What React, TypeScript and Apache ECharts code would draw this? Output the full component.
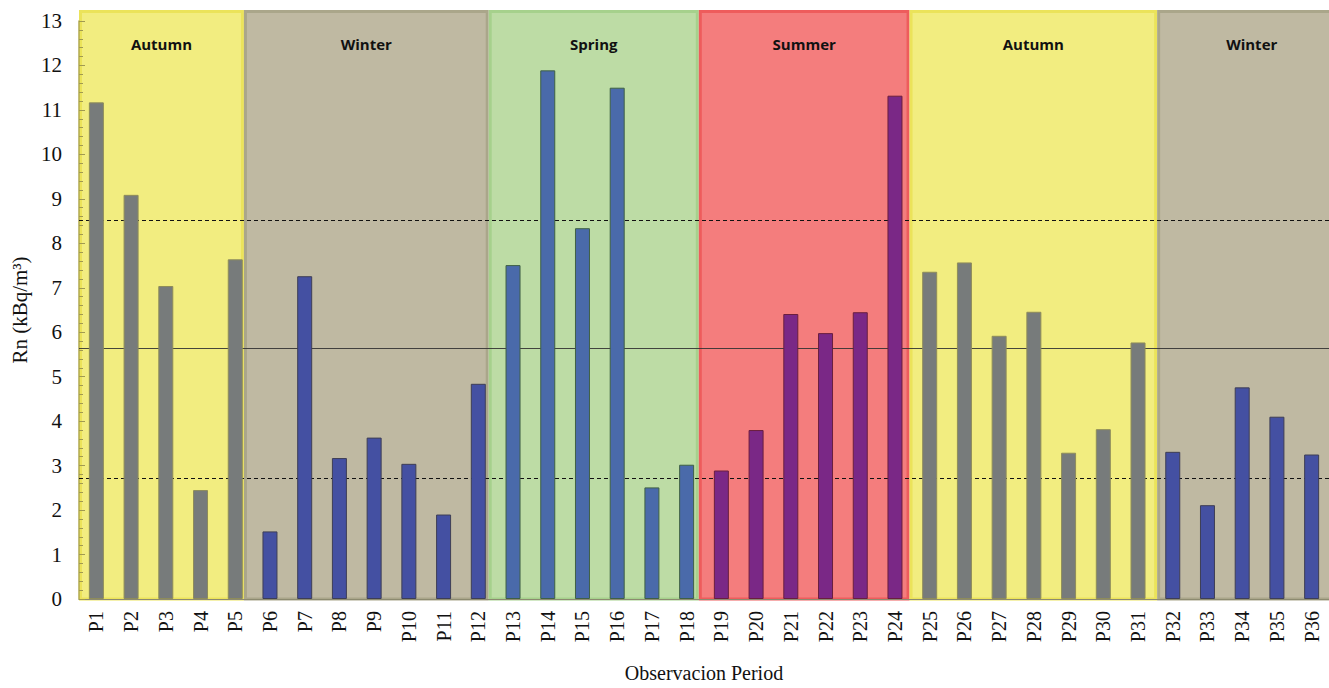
import React, { useEffect, useRef } from "react";
import * as echarts from "echarts";

const categories = Array.from({ length: 36 }, (_, i) => "P" + (i + 1));
const radonValues = [
  11.17, 9.09, 7.04, 2.45, 7.64,
  1.52, 7.26, 3.17, 3.63, 3.04, 1.9, 4.84,
  7.51, 11.89, 8.34, 11.5, 2.51, 3.02,
  2.89, 3.8, 6.41, 5.98, 6.45, 11.32,
  7.36, 7.57, 5.92, 6.46, 3.29, 3.82, 5.77,
  3.31, 2.11, 4.76, 4.1, 3.25,
];
const seasonNames = ["Autumn", "Winter", "Spring", "Summer", "Autumn", "Winter"];
const seasonCounts = [5, 7, 6, 6, 7, 5];
// season band edges in category units (as drawn in the original)
const seasonEdges = [0, 4.75, 11.8, 17.85, 23.92, 31.05, 36.5];
const meanLine = 5.65;
const upperLine = 8.52;
const lowerLine = 2.72;
const yTicks = { min: 0, max: 13, interval: 1 };

const seasonStyle: Record<string, { fill: string; stroke: string; bar: string; barBorder: string }> = {
  Autumn: { fill: "#f2ed80", stroke: "#ebe35a", bar: "#777b7b", barBorder: "#8e8c5a" },
  Winter: { fill: "#bfb9a2", stroke: "#aaa68a", bar: "#4450a2", barBorder: "#3e3e55" },
  Spring: { fill: "#bddca5", stroke: "#a6d18c", bar: "#4a6aaa", barBorder: "#3f6045" },
  Summer: { fill: "#f47d7d", stroke: "#ee5c5c", bar: "#7a2886", barBorder: "#6a1e3e" },
};

function barSeasonIndex(i: number): number {
  let acc = 0;
  for (let s = 0; s < seasonCounts.length; s++) {
    acc += seasonCounts[s];
    if (i < acc) return s;
  }
  return seasonCounts.length - 1;
}

export default function App() {
  const ref = useRef<HTMLDivElement>(null);
  useEffect(() => {
    if (!ref.current) return;
    const chart = echarts.init(ref.current, null, { renderer: "svg" });
    const serif = "'Liberation Serif', 'Times New Roman', serif";
    const bandData = seasonNames.map((_, i) => [seasonEdges[i], seasonEdges[i + 1]]);
    const barData = radonValues.map((v, i) => {
      const st = seasonStyle[seasonNames[barSeasonIndex(i)]];
      return { value: v, itemStyle: { color: st.bar, borderColor: st.barBorder, borderWidth: 1 } };
    });
    chart.setOption({
      animation: false,
      grid: { left: 79, width: 1261, top: 21, bottom: 82 },
      xAxis: [
        {
          type: "category",
          data: categories,
          boundaryGap: true,
          axisLine: { show: true, lineStyle: { color: "#8c8a70", width: 1 } },
          axisTick: { show: false },
          axisLabel: {
            rotate: 90,
            fontFamily: serif,
            fontSize: 20,
            color: "#111",
            margin: 12,
            interval: 0,
          },
          name: "Observacion Period",
          nameLocation: "middle",
          nameGap: 64,
          nameTextStyle: { fontFamily: serif, fontSize: 20, color: "#111" },
          z: 3,
        },
        { type: "value", min: 0, max: 36, show: false },
      ],
      yAxis: {
        type: "value",
        min: yTicks.min,
        max: yTicks.max,
        interval: yTicks.interval,
        axisLine: { show: true, lineStyle: { color: "#b0a850", width: 1.5 } },
        axisTick: { show: true, inside: true, length: 6, lineStyle: { color: "#a09a50" } },
        minorTick: { show: true, splitNumber: 5, length: 4, lineStyle: { color: "#a09a50" } },
        splitLine: { show: false },
        axisLabel: { fontFamily: serif, fontSize: 21, color: "#111", margin: 17 },
        name: "Rn (kBq/m³)",
        nameLocation: "middle",
        nameGap: 47,
        nameRotate: 90,
        nameTextStyle: { fontFamily: serif, fontSize: 21, color: "#111" },
        z: 4,
      },
      series: [
        {
          type: "custom",
          xAxisIndex: 1,
          yAxisIndex: 0,
          z: 1,
          clip: false,
          silent: true,
          data: bandData,
          renderItem: (params: any, api: any) => {
            const name = seasonNames[params.dataIndex];
            const st = seasonStyle[name];
            const p1 = api.coord([api.value(0), yTicks.max]);
            const p2 = api.coord([api.value(1), 0]);
            const top = p1[1] - 11;
            const x1 = p1[0] + 1.5;
            const x2 = p2[0] - 1.5;
            return {
              type: "group",
              children: [
                {
                  type: "rect",
                  shape: { x: x1, y: top + 1.5, width: x2 - x1, height: p2[1] - top - 1.5 },
                  style: { fill: st.fill, stroke: st.stroke, lineWidth: 3 },
                },
                {
                  type: "text",
                  x: (x1 + x2) / 2,
                  y: top + 34,
                  style: {
                    text: name,
                    textAlign: "center",
                    textVerticalAlign: "middle",
                    fontFamily: "'Open Sans', 'DejaVu Sans', sans-serif",
                    fontWeight: "bold",
                    fontSize: 15,
                    fill: "#111",
                  },
                },
              ],
            };
          },
        },
        {
          type: "bar",
          xAxisIndex: 0,
          yAxisIndex: 0,
          data: barData,
          barWidth: 15,
          z: 5,
        },
        {
          type: "line",
          xAxisIndex: 0,
          yAxisIndex: 0,
          data: [],
          z: 8,
          markLine: {
            silent: true,
            symbol: ["none", "none"],
            label: { show: false },
            data: [
              { yAxis: upperLine, lineStyle: { type: [4, 3], color: "#111", width: 1 } },
              { yAxis: meanLine, lineStyle: { type: "solid", color: "#333", width: 1.2, opacity: 0.9 } },
              { yAxis: lowerLine, lineStyle: { type: [4, 3], color: "#111", width: 1 } },
            ],
          },
        },
      ],
    });
    return () => chart.dispose();
  }, []);
  return (
    <div
      ref={ref}
      style={{ position: "absolute", left: 0, top: 0, width: 1329, height: 688, background: "#fff" }}
    />
  );
}
